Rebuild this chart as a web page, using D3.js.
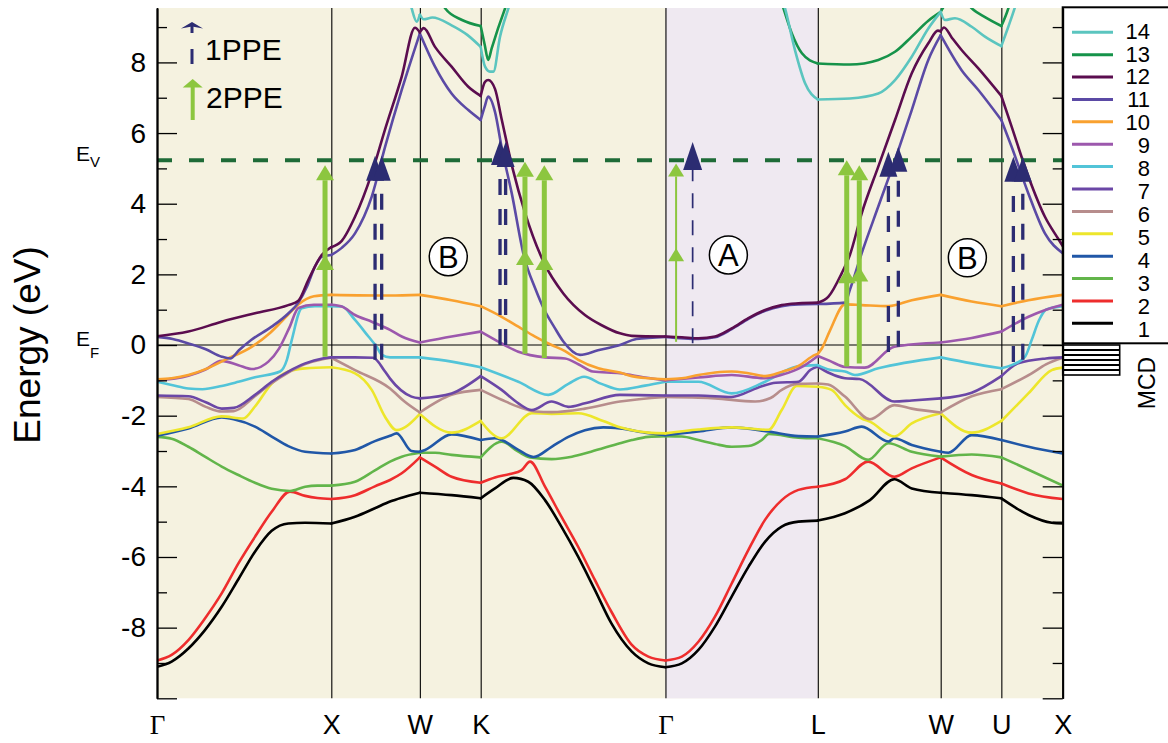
<!DOCTYPE html>
<html><head><meta charset="utf-8">
<script src="https://cdn.jsdelivr.net/npm/d3@7"></script>
<style>
html,body{margin:0;padding:0;background:#fff;}
svg{display:block;font-family:"Liberation Sans",Arial,Helvetica,sans-serif;}
</style></head><body>
<svg id="chart" width="1168" height="743"></svg>
<script>
// High-symmetry points along the fcc k-path (path length units)
const kNodes = [0, 1, 1.508, 1.857, 2.917, 3.791, 4.496, 4.844, 5.196];
const kLabels = ["Γ", "X", "W", "K", "Γ", "L", "W", "U", "X"];
const energyMajor = [-10, -8, -6, -4, -2, 0, 2, 4, 6, 8];
const energyMinor = [-9, -7, -5, -3, -1, 1, 3, 5, 7, 9];
const energyLabelled = [-8, -6, -4, -2, 0, 2, 4, 6, 8];
const fermiLevel = 0;
const vacuumLevel = 5.23;

// Band energies (eV) as [k, E] pairs, band 1 lowest
const band1 = [[0,-9.11],[0.084,-8.96],[0.18,-8.59],[0.275,-8.07],[0.371,-7.41],[0.467,-6.63],[0.562,-5.85],[0.658,-5.26],[0.753,-5.05],[0.85,-5.03],[1,-5.05],
  [1.136,-4.86],[1.25,-4.62],[1.337,-4.43],[1.404,-4.32],[1.508,-4.18],
  [1.69,-4.25],[1.857,-4.34],
  [1.939,-4.06],[2.044,-3.76],[2.13,-3.87],[2.226,-4.39],[2.32,-5.14],[2.416,-5.99],[2.512,-6.93],[2.607,-7.88],[2.724,-8.68],[2.819,-9.01],[2.917,-9.12],
  [3.011,-9.01],[3.106,-8.63],[3.201,-7.97],[3.297,-7.12],[3.393,-6.28],[3.488,-5.57],[3.584,-5.14],[3.68,-5.0],[3.791,-4.97],
  [3.947,-4.76],[4.09,-4.39],[4.23,-3.80],[4.33,-4.06],[4.496,-4.18],
  [4.674,-4.25],[4.844,-4.34],
  [5.0,-4.81],[5.133,-5.03],[5.196,-5.05]];
const band2 = [[0,-8.93],[0.084,-8.77],[0.18,-8.35],[0.275,-7.74],[0.371,-7.03],[0.467,-6.18],[0.562,-5.43],[0.658,-4.72],[0.763,-4.15],[0.85,-4.27],[0.92,-4.33],[1,-4.36],
  [1.136,-4.25],[1.25,-4.0],[1.337,-3.82],[1.404,-3.63],[1.508,-3.18],
  [1.595,-3.44],[1.69,-3.73],[1.857,-3.90],
  [1.939,-3.75],[2.025,-3.65],[2.09,-3.55],[2.14,-3.30],[2.226,-4.01],[2.32,-4.86],[2.416,-5.71],[2.512,-6.65],[2.607,-7.55],[2.724,-8.49],[2.819,-8.82],[2.917,-8.93],
  [3.011,-8.82],[3.106,-8.40],[3.201,-7.69],[3.297,-6.75],[3.393,-5.80],[3.488,-4.95],[3.584,-4.39],[3.68,-4.10],[3.791,-4.01],
  [3.947,-3.80],[4.08,-3.30],[4.23,-3.73],[4.33,-3.49],[4.496,-3.18],
  [4.674,-3.68],[4.844,-3.92],
  [5.0,-4.20],[5.196,-4.36]];
const band3 = [[0,-2.60],[0.084,-2.65],[0.18,-2.88],[0.275,-3.16],[0.371,-3.44],[0.467,-3.68],[0.562,-3.90],[0.658,-4.07],[0.763,-4.13],[0.85,-4.01],[0.92,-3.98],[1,-3.98],
  [1.136,-3.87],[1.25,-3.55],[1.337,-3.30],[1.404,-3.16],[1.508,-3.05],
  [1.595,-3.05],[1.69,-3.11],[1.857,-3.18],
  [1.978,-2.74],[2.073,-3.02],[2.14,-3.18],[2.264,-3.23],[2.38,-3.16],[2.49,-3.02],[2.656,-2.78],[2.724,-2.69],[2.819,-2.60],[2.917,-2.58],
  [3.011,-2.59],[3.106,-2.69],[3.201,-2.80],[3.297,-2.88],[3.393,-2.86],[3.47,-2.69],[3.51,-2.52],[3.68,-2.62],[3.791,-2.64],
  [3.947,-2.86],[4.08,-3.25],[4.196,-2.78],[4.33,-3.02],[4.496,-3.16],
  [4.674,-3.10],[4.844,-3.18],
  [5.0,-3.53],[5.196,-3.98]];
const band4 = [[0,-2.57],[0.18,-2.36],[0.371,-2.05],[0.44,-2.10],[0.562,-2.31],[0.658,-2.59],[0.753,-2.86],[0.85,-3.02],[1,-3.07],
  [1.136,-2.97],[1.25,-2.72],[1.337,-2.57],[1.375,-2.50],[1.46,-3.0],[1.508,-3.02],
  [1.538,-2.97],[1.69,-2.53],[1.857,-2.69],
  [1.939,-2.64],[1.978,-2.69],[2.073,-2.97],[2.16,-3.17],[2.264,-2.88],[2.36,-2.60],[2.455,-2.41],[2.56,-2.33],[2.656,-2.36],[2.80,-2.48],[2.917,-2.55],
  [3.106,-2.45],[3.297,-2.33],[3.508,-2.45],[3.68,-2.58],[3.791,-2.59],
  [3.947,-2.45],[4.043,-2.31],[4.196,-2.73],[4.23,-2.64],[4.33,-2.83],[4.496,-3.02],
  [4.54,-3.05],[4.674,-2.55],[4.844,-2.69],
  [5.0,-2.88],[5.196,-3.07]];
const band5 = [[0,-2.52],[0.18,-2.33],[0.371,-2.02],[0.495,-2.08],[0.562,-1.74],[0.658,-1.09],[0.753,-0.75],[0.85,-0.66],[1,-0.63],
  [1.136,-0.80],[1.232,-1.27],[1.308,-2.03],[1.375,-2.41],[1.508,-1.95],
  [1.69,-2.48],[1.857,-2.15],
  [1.977,-2.64],[2.15,-1.93],[2.264,-1.95],[2.417,-1.93],[2.56,-2.15],[2.656,-2.33],[2.819,-2.48],[2.917,-2.50],
  [3.106,-2.39],[3.297,-2.33],[3.508,-2.40],[3.584,-1.84],[3.67,-1.16],[3.791,-1.18],
  [3.87,-1.27],[3.947,-1.70],[4.043,-2.08],[4.09,-2.17],[4.23,-2.59],[4.33,-2.22],[4.496,-1.93],
  [4.674,-2.48],[4.844,-2.15],
  [4.999,-1.37],[5.133,-0.71],[5.196,-0.64]];
const band6 = [[0,-1.47],[0.18,-1.53],[0.28,-1.75],[0.371,-1.88],[0.44,-1.87],[0.562,-1.45],[0.658,-1.08],[0.753,-0.78],[0.85,-0.54],[0.95,-0.40],[1,-0.36],
  [1.136,-0.71],[1.337,-1.23],[1.42,-1.6],[1.508,-1.91],
  [1.69,-1.41],[1.857,-1.27],
  [1.977,-1.55],[2.073,-1.75],[2.169,-1.88],[2.264,-1.90],[2.455,-1.80],[2.656,-1.60],[2.917,-1.47],
  [3.106,-1.49],[3.202,-1.51],[3.431,-1.60],[3.52,-1.50],[3.584,-1.27],[3.67,-1.10],[3.791,-1.09],
  [3.85,-1.12],[3.947,-1.46],[4.09,-2.10],[4.23,-1.70],[4.33,-1.80],[4.496,-1.91],
  [4.674,-1.45],[4.844,-1.25],
  [5.018,-0.80],[5.1,-0.55],[5.196,-0.36]];
const band7 = [[0,-1.43],[0.18,-1.45],[0.28,-1.62],[0.371,-1.80],[0.44,-1.78],[0.562,-1.41],[0.658,-1.04],[0.753,-0.75],[0.85,-0.52],[0.95,-0.38],[1,-0.35],
  [1.136,-0.35],[1.24,-0.36],[1.308,-0.75],[1.337,-0.95],[1.46,-1.46],[1.508,-1.51],
  [1.69,-1.37],[1.857,-0.88],
  [1.977,-1.27],[2.073,-1.65],[2.15,-1.84],[2.264,-1.60],[2.36,-1.75],[2.455,-1.65],[2.656,-1.41],[2.917,-1.43],
  [3.106,-1.43],[3.297,-1.47],[3.45,-1.20],[3.55,-1.07],[3.68,-1.04],[3.75,-0.70],[3.791,-0.61],
  [3.86,-0.80],[3.947,-0.94],[4.03,-0.96],[4.23,-1.60],[4.33,-1.57],[4.496,-1.51],
  [4.674,-1.35],[4.844,-0.88],
  [4.94,-0.52],[5.1,-0.38],[5.196,-0.35]];
const band8 = [[0,-1.04],[0.084,-1.13],[0.18,-1.23],[0.26,-1.25],[0.371,-1.16],[0.467,-1.04],[0.562,-0.91],[0.706,-0.75],[0.745,-0.42],[0.773,0.14],[0.83,1.04],[0.906,1.10],[1,1.10],
  [1.06,1.09],[1.136,0.71],[1.213,0.24],[1.26,-0.05],[1.29,-0.28],[1.337,-0.35],[1.508,-0.35],
  [1.69,-0.47],[1.857,-0.63],
  [2.073,-1.04],[2.245,-1.41],[2.36,-1.10],[2.45,-0.90],[2.55,-1.10],[2.656,-1.26],[2.80,-1.15],[2.917,-1.04],
  [3.106,-1.04],[3.297,-1.37],[3.489,-1.04],[3.67,-0.61],[3.791,-0.57],
  [3.86,-0.70],[3.947,-0.75],[4.004,-0.85],[4.138,-0.66],[4.496,-0.35],
  [4.674,-0.52],[4.844,-0.66],
  [4.903,-0.57],[4.98,-0.33],[5.018,0.14],[5.06,0.70],[5.1,1.0],[5.196,1.10]];
const band9 = [[0,-1.0],[0.18,-0.87],[0.275,-0.70],[0.371,-0.45],[0.467,-0.57],[0.543,-0.68],[0.639,-0.47],[0.70,-0.10],[0.76,0.50],[0.811,1.05],[0.9,1.14],[1,1.14],
  [1.06,1.09],[1.136,0.85],[1.232,0.66],[1.337,0.43],[1.404,0.24],[1.508,0.07],
  [1.69,0.24],[1.857,0.38],
  [1.95,0.12],[2.073,-0.19],[2.226,-0.35],[2.341,-0.38],[2.42,-0.55],[2.5,-0.75],[2.656,-0.80],[2.8,-0.92],[2.917,-1.0],
  [3.106,-0.92],[3.297,-0.85],[3.489,-0.94],[3.58,-0.85],[3.70,-0.62],[3.791,-0.31],
  [3.86,-0.45],[3.947,-0.62],[4.06,-0.64],[4.23,-0.05],[4.496,0.07],
  [4.674,0.20],[4.844,0.38],
  [5.0,0.80],[5.1,1.0],[5.196,1.14]];
const band10 = [[0,-0.97],[0.084,-0.94],[0.18,-0.85],[0.275,-0.69],[0.39,-0.42],[0.543,-0.05],[0.65,0.35],[0.75,0.85],[0.811,1.15],[0.9,1.38],[1,1.42],
  [1.337,1.40],[1.508,1.42],
  [1.69,1.27],[1.857,1.10],
  [1.977,0.80],[2.073,0.52],[2.169,0.24],[2.264,0.0],[2.341,-0.17],[2.417,-0.42],[2.532,-0.66],[2.656,-0.78],[2.724,-0.88],[2.819,-0.94],[2.917,-0.97],
  [3.011,-0.94],[3.106,-0.85],[3.202,-0.78],[3.297,-0.75],[3.393,-0.80],[3.489,-0.88],[3.584,-0.76],[3.68,-0.59],[3.775,-0.28],[3.791,-0.25],
  [3.814,-0.10],[3.86,0.40],[3.947,1.15],[4.043,1.13],[4.196,1.10],[4.33,1.27],[4.496,1.42],
  [4.674,1.23],[4.844,1.10],
  [4.999,1.27],[5.196,1.42]];
const band11 = [[0,0.23],[0.09,0.17],[0.19,0.03],[0.28,-0.12],[0.371,-0.33],[0.42,-0.38],[0.47,-0.15],[0.54,0.14],[0.658,0.52],[0.75,0.88],[0.811,1.20],[0.86,1.65],[0.906,2.22],[0.945,2.50],[1,2.55],
  [1.06,2.75],[1.136,3.16],[1.232,4.20],[1.308,5.60],[1.404,7.22],[1.508,8.82],
  [1.595,7.88],[1.69,7.12],[1.786,6.65],[1.857,6.37],
  [1.88,6.75],[1.9,7.03],[1.939,6.60],[1.977,5.60],[2.035,4.30],[2.106,2.50],[2.17,1.60],[2.222,1.0],[2.28,0.50],[2.331,0.10],[2.427,-0.28],[2.53,-0.15],[2.656,0.0],[2.75,0.17],[2.917,0.23],
  [3.106,0.17],[3.2,0.22],[3.297,0.45],[3.393,0.74],[3.489,0.97],[3.584,1.10],[3.68,1.15],[3.791,1.16],
  [3.947,1.20],[3.975,1.56],[4.043,2.60],[4.138,3.92],[4.234,5.24],[4.33,6.65],[4.425,8.07],[4.496,8.77],
  [4.616,7.78],[4.712,7.22],[4.844,6.37],
  [4.903,5.61],[4.999,4.29],[5.094,3.16],[5.196,2.60]];
const band12 = [[0,0.25],[0.18,0.38],[0.371,0.66],[0.562,0.90],[0.753,1.13],[0.811,1.25],[0.868,1.84],[0.945,2.55],[1,2.77],
  [1.06,2.95],[1.136,3.63],[1.232,4.86],[1.308,6.10],[1.404,7.60],[1.48,8.98],[1.508,8.85],
  [1.53,8.97],[1.595,8.44],[1.69,7.88],[1.786,7.31],[1.857,7.05],
  [1.882,7.45],[1.9,7.50],[1.939,7.25],[1.977,6.40],[2.04,5.0],[2.111,3.75],[2.222,2.31],[2.331,1.46],[2.455,0.85],[2.551,0.56],[2.656,0.33],[2.724,0.26],[2.917,0.24],
  [3.011,0.22],[3.106,0.19],[3.202,0.24],[3.297,0.47],[3.393,0.76],[3.489,0.99],[3.584,1.13],[3.68,1.18],[3.791,1.20],
  [3.852,1.37],[3.928,2.03],[3.975,2.55],[4.043,3.73],[4.138,5.05],[4.234,6.37],[4.33,7.69],[4.425,8.54],[4.48,8.90],[4.496,8.88],
  [4.515,8.99],[4.56,8.70],[4.616,8.35],[4.712,7.83],[4.844,7.05],
  [4.903,6.18],[4.999,4.77],[5.094,3.63],[5.171,3.0],[5.196,2.80]];
const band13 = [[0,11],[1,11],[1.508,11],
  [1.6,10.2],[1.653,9.53],[1.75,9.20],[1.857,9.03],
  [1.88,8.50],[1.9,8.07],[1.92,8.40],[1.997,9.53],[2.05,10.2],[2.917,11],
  [3.55,10.2],[3.594,9.53],[3.642,8.82],[3.7,8.26],[3.791,7.97],
  [3.975,7.94],[4.138,8.07],[4.234,8.30],[4.33,8.73],[4.425,9.18],[4.496,9.43],
  [4.54,9.70],[4.64,9.70],[4.674,9.53],[4.75,9.28],[4.844,9.03],
  [4.884,9.53],[4.92,10.2],[5.196,11]];
const band14 = [[0,11],[1,11],
  [1.43,10.2],[1.461,9.53],[1.49,9.15],[1.508,9.35],
  [1.53,9.22],[1.58,9.27],[1.69,9.05],[1.78,8.78],[1.857,8.44],
  [1.882,7.88],[1.91,7.74],[1.93,7.74],[1.968,8.73],[2.016,9.53],[2.06,10.2],[2.917,11],
  [3.56,10.2],[3.603,9.53],[3.66,8.35],[3.718,7.41],[3.791,6.95],
  [3.975,6.98],[4.138,7.12],[4.234,7.50],[4.33,8.16],[4.425,8.96],[4.496,9.43],
  [4.52,9.20],[4.578,9.25],[4.674,9.01],[4.75,8.73],[4.844,8.46],
  [4.884,9.01],[4.92,9.53],[4.96,10.2],[5.196,11]];

const bands = [band1, band2, band3, band4, band5, band6, band7, band8, band9, band10, band11, band12, band13, band14];
const bandNames = ["1","2","3","4","5","6","7","8","9","10","11","12","13","14"];
const bandColors = ["#000000","#ee2d2d","#62b54a","#2057a7","#ede62b","#b78d8c","#6b47a6","#52c4d8","#9c58ad","#f9a12f","#5b4aa5","#5b0d4f","#16934a","#5bc5bf"];

// One-photon transitions: k, initial E, final E (tip); thin marks the Γ-L one
const onePPE = [
  {k:1.251, from:-0.42, to:5.36, thin:false},
  {k:1.289, from:-0.42, to:5.36, thin:false},
  {k:1.968, from:0.0, to:5.80, thin:false},
  {k:2.000, from:0.0, to:5.75, thin:false},
  {k:3.073, from:0.05, to:5.75, thin:true},
  {k:4.196, from:-0.20, to:5.47, thin:false},
  {k:4.253, from:-0.05, to:5.61, thin:false},
  {k:4.913, from:-0.48, to:5.33, thin:false},
  {k:4.967, from:-0.42, to:5.33, thin:false}
];
// Two-photon transitions: k, initial E, intermediate E, final E
const twoPPE = [
  {k:0.964, from:-0.33, mid:2.55, to:5.09, thin:false},
  {k:2.111, from:-0.25, mid:2.69, to:5.19, thin:false},
  {k:2.222, from:-0.37, mid:2.55, to:5.09, thin:false},
  {k:2.978, from:0.09, mid:2.74, to:5.14, thin:true},
  {k:3.957, from:-0.61, mid:2.17, to:5.23, thin:false},
  {k:4.029, from:-0.52, mid:2.22, to:5.09, thin:false}
];
const regionMarks = [{k:1.671, E:2.50, t:"B"}, {k:3.278, E:2.55, t:"A"}, {k:4.649, E:2.47, t:"B"}];

const plotL = 157, plotR = 1062.7, plotT = 8, plotB = 698.3;
const x = d3.scaleLinear().domain([0, 5.196]).range([plotL, plotR]);
const y = d3.scaleLinear().domain([-10, 9.54]).range([plotB, plotT]);

const svg = d3.select("#chart");
const navy = "#2c2c72", lime = "#8cc63f";

// plot backgrounds
svg.append("rect").attr("x", plotL).attr("y", plotT).attr("width", plotR-plotL).attr("height", plotB-plotT).attr("fill", "#f5f2e0");
svg.append("rect").attr("x", x(kNodes[4])).attr("y", plotT).attr("width", x(kNodes[5])-x(kNodes[4])).attr("height", plotB-plotT).attr("fill", "#efe9f1");

// symmetry lines and labels
const xAxis = svg.append("g").attr("transform", `translate(0,${plotB})`)
  .call(d3.axisBottom(x).tickValues(kNodes).tickFormat((d,i)=>kLabels[i]).tickSize(-(plotB-plotT)).tickPadding(17));
xAxis.select(".domain").remove();
xAxis.selectAll(".tick line").attr("stroke", "#000").attr("stroke-width", 1.1);
xAxis.selectAll(".tick text").attr("font-size", 27).attr("fill", "#000")
  .attr("font-family", (d,i)=> kLabels[i]==="Γ" ? "'Liberation Serif','Times New Roman',serif" : null);

// Fermi level
svg.append("line").attr("x1", plotL).attr("x2", plotR).attr("y1", y(fermiLevel)).attr("y2", y(fermiLevel))
  .attr("stroke", "#000").attr("stroke-width", 1.2);

// bands, clipped to the plot
svg.append("clipPath").attr("id", "plotClip").append("rect")
  .attr("x", plotL).attr("y", plotT).attr("width", plotR-plotL).attr("height", plotB-plotT);
const bandG = svg.append("g").attr("clip-path", "url(#plotClip)");
const line = d3.line().x(d=>x(d[0])).y(d=>y(d[1])).curve(d3.curveMonotoneX);
bands.forEach((b, i) => {
  for (let s = 0; s < kNodes.length-1; s++) {
    const pts = b.filter(p => p[0] >= kNodes[s]-1e-9 && p[0] <= kNodes[s+1]+1e-9);
    if (pts.length > 1) {
      bandG.append("path").attr("d", line(pts)).attr("fill", "none")
        .attr("stroke", bandColors[i]).attr("stroke-width", 2.6).attr("stroke-linecap", "round");
    }
  }
});

// vacuum level
svg.append("line").attr("x1", plotL).attr("x2", plotR).attr("y1", y(vacuumLevel)).attr("y2", y(vacuumLevel))
  .attr("stroke", "#1e6b37").attr("stroke-width", 4).attr("stroke-dasharray", "15,17");

// 1PPE arrows
onePPE.forEach(a => {
  const cx = x(a.k), yTip = y(a.to), hw = a.thin ? 9.5 : 9, hh = a.thin ? 28 : 25;
  svg.append("line").attr("x1", cx).attr("x2", cx).attr("y1", y(a.from)).attr("y2", yTip + hh)
    .attr("stroke", navy).attr("stroke-width", a.thin ? 1.7 : 3.3)
    .attr("stroke-dasharray", a.thin ? "15,12" : "16,14");
  svg.append("path").attr("d", `M${cx},${yTip}L${cx+hw},${yTip+hh}L${cx-hw},${yTip+hh}Z`).attr("fill", navy);
});

// 2PPE arrows
twoPPE.forEach(a => {
  const cx = x(a.k), hw = a.thin ? 8 : 9, hh = a.thin ? 13 : 15;
  svg.append("line").attr("x1", cx).attr("x2", cx).attr("y1", y(a.from)).attr("y2", y(a.to) + hh)
    .attr("stroke", lime).attr("stroke-width", a.thin ? 2 : 5);
  [a.mid, a.to].forEach(e => {
    const t = y(e);
    svg.append("path").attr("d", `M${cx},${t}L${cx+hw},${t+hh}L${cx-hw},${t+hh}Z`).attr("fill", lime);
  });
});

// circled region labels
regionMarks.forEach(m => {
  svg.append("circle").attr("cx", x(m.k)).attr("cy", y(m.E)).attr("r", 19)
    .attr("fill", "#fff").attr("stroke", "#000").attr("stroke-width", 1.5);
  svg.append("text").attr("x", x(m.k)).attr("y", y(m.E)).attr("dy", "0.36em")
    .attr("text-anchor", "middle").attr("font-size", 31).text(m.t);
});

// legend box and MCD bar
svg.append("rect").attr("x", plotR).attr("y", 7.3).attr("width", 130).attr("height", 336)
  .attr("fill", "#fff").attr("stroke", "#000").attr("stroke-width", 2);
const legY = d3.scaleLinear().domain([13, 0]).range([32.3, 323.3]);
const legText = d3.scaleLinear().domain([13, 0]).range([38.6, 336.5]);
bandNames.forEach((n, i) => {
  const ly = legY(i);
  svg.append("line").attr("x1", 1072).attr("x2", 1113).attr("y1", ly).attr("y2", ly)
    .attr("stroke", bandColors[i]).attr("stroke-width", 3);
  svg.append("text").attr("x", 1150).attr("y", legText(i)).attr("text-anchor", "end")
    .attr("font-size", 22).text(n);
});
svg.append("rect").attr("x", plotR).attr("y", 345).attr("width", 57).attr("height", 30)
  .attr("fill", "#fff").attr("stroke", "#000").attr("stroke-width", 1.6);
[350, 355, 360, 365, 370].forEach(v => {
  svg.append("line").attr("x1", plotR).attr("x2", plotR+57).attr("y1", v).attr("y2", v)
    .attr("stroke", "#000").attr("stroke-width", 2);
});
svg.append("text").attr("transform", "translate(1155,383) rotate(-90)").attr("text-anchor", "middle")
  .attr("font-size", 23).text("MCD");

// energy axes
function styleAxis(g) {
  g.select(".domain").attr("stroke", "#000").attr("stroke-width", 1.8);
  g.selectAll(".tick line").attr("stroke", "#000").attr("stroke-width", 1.3);
  g.selectAll(".tick text").attr("font-size", 28).attr("fill", "#000");
}
const yAxisL = svg.append("g").attr("transform", `translate(${plotL},0)`)
  .call(d3.axisLeft(y).tickValues(energyMajor).tickSize(-20).tickSizeOuter(0).tickPadding(11)
    .tickFormat(d => energyLabelled.includes(d) ? String(d) : ""));
styleAxis(yAxisL);
const yAxisLm = svg.append("g").attr("transform", `translate(${plotL},0)`)
  .call(d3.axisLeft(y).tickValues(energyMinor).tickSize(-10).tickSizeOuter(0).tickFormat(""));
styleAxis(yAxisLm);
const yAxisR = svg.append("g").attr("transform", `translate(${plotR},0)`)
  .call(d3.axisRight(y).tickValues(energyMajor).tickSize(-20).tickSizeOuter(0).tickFormat(""));
styleAxis(yAxisR);
const yAxisRm = svg.append("g").attr("transform", `translate(${plotR},0)`)
  .call(d3.axisRight(y).tickValues(energyMinor).tickSize(-10).tickSizeOuter(0).tickFormat(""));
styleAxis(yAxisRm);

// axis title and level labels
svg.append("text").attr("transform", "translate(40,345) rotate(-90)").attr("text-anchor", "middle")
  .attr("font-size", 37).text("Energy (eV)");
function levelLabel(sub, e) {
  const t = svg.append("text").attr("x", 76).attr("y", y(e) + 1).attr("font-size", 21);
  t.append("tspan").text("E");
  t.append("tspan").attr("font-size", 15).attr("dy", sub === "F" ? 12 : 6).text(sub);
}
levelLabel("V", vacuumLevel);
levelLabel("F", fermiLevel);

// transition key
const key = svg.append("g");
key.append("path").attr("d", "M192,22L203,28.5L192,26.5L181,28.5Z").attr("fill", navy);
key.append("rect").attr("x", 190.5).attr("y", 26).attr("width", 3).attr("height", 7).attr("fill", navy);
key.append("rect").attr("x", 190.5).attr("y", 49).attr("width", 3).attr("height", 15).attr("fill", navy);
key.append("text").attr("x", 205).attr("y", 60).attr("font-size", 30).text("1PPE");
key.append("path").attr("d", "M192.7,79L202.7,87.5L182.7,87.5Z").attr("fill", lime);
key.append("rect").attr("x", 190.7).attr("y", 87).attr("width", 4).attr("height", 33).attr("fill", lime);
key.append("text").attr("x", 206).attr("y", 108).attr("font-size", 30).text("2PPE");
</script>
</body></html>
